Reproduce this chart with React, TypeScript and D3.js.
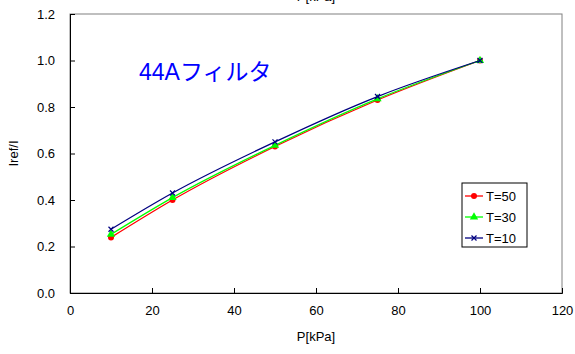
import React, { useEffect, useRef } from 'react';
import * as d3 from 'd3';

const pressures = [10, 25, 50, 75, 100];
const t50 = [0.239, 0.40, 0.63, 0.83, 1.0];
const t30 = [0.252, 0.41, 0.635, 0.835, 1.0];
const t10 = [0.274, 0.43, 0.65, 0.845, 1.0];
const seriesNames = ['T=50', 'T=30', 'T=10'];
const xTicks = [0, 20, 40, 60, 80, 100, 120];
const yTicks = [0, 0.2, 0.4, 0.6, 0.8, 1.0, 1.2];

const W = 575;
const H = 354;
const FONT = '"Liberation Sans", Arial, "Noto Sans CJK JP", sans-serif';

export default function App() {
  const ref = useRef<SVGSVGElement | null>(null);

  useEffect(() => {
    const svg = d3.select(ref.current);
    svg.selectAll('*').remove();

    const margin = { top: 14, right: 13, bottom: 61, left: 70 };
    const x = d3.scaleLinear().domain([0, 120]).range([margin.left, W - margin.right]);
    const y = d3.scaleLinear().domain([0, 1.2]).range([H - margin.bottom, margin.top]);

    // plot frame
    svg.append('rect')
      .attr('x', x(0)).attr('y', y(1.2))
      .attr('width', x(120) - x(0)).attr('height', y(0) - y(1.2))
      .attr('fill', 'white').attr('stroke', '#808080').attr('stroke-width', 1);

    // x axis
    const xAxis = svg.append('g')
      .attr('transform', `translate(0,${y(0)})`)
      .call(d3.axisBottom(x).tickValues(xTicks).tickSize(-5).tickPadding(13).tickFormat(d3.format('d')));
    xAxis.select('.domain').attr('stroke', 'black');
    xAxis.selectAll('text').attr('font-size', 13).attr('font-family', FONT).attr('fill', 'black');

    // y axis
    const yAxis = svg.append('g')
      .attr('transform', `translate(${x(0)},0)`)
      .call(d3.axisLeft(y).tickValues(yTicks).tickSize(-5).tickPadding(15).tickFormat(d3.format('.1f')));
    yAxis.select('.domain').attr('stroke', 'black');
    yAxis.selectAll('text').attr('font-size', 13).attr('font-family', FONT).attr('fill', 'black');

    // titles
    svg.append('text').attr('x', (x(0) + x(120)) / 2).attr('y', 341)
      .attr('text-anchor', 'middle').attr('font-size', 13).attr('font-family', FONT).text('P[kPa]');
    // top title, cut off by the upper edge as in the original
    svg.append('text').attr('x', (x(0) + x(120)) / 2).attr('y', 1)
      .attr('text-anchor', 'middle').attr('font-size', 13).attr('font-family', FONT).text('P[kPa]');
    svg.append('text')
      .attr('transform', `translate(18,${(y(0) + y(1.2)) / 2}) rotate(-90)`)
      .attr('text-anchor', 'middle').attr('font-size', 13).attr('font-family', FONT).text('Iref/I');

    svg.append('text').attr('x', 139).attr('y', 80)
      .attr('font-size', 23).attr('font-family', FONT).attr('fill', '#0000FF').text('44Aフィルタ');

    const series = [
      { name: seriesNames[0], values: t50, color: '#FF0000', marker: 'circle' },
      { name: seriesNames[1], values: t30, color: '#00FF00', marker: 'triangle' },
      { name: seriesNames[2], values: t10, color: '#000080', marker: 'x' },
    ];

    const line = d3.line<number>()
      .x((_, i) => x(pressures[i]))
      .y((d) => y(d))
      .curve(d3.curveMonotoneX);

    const drawMarker = (g: any, type: string, color: string, cx: number, cy: number) => {
      if (type === 'circle') {
        g.append('circle').attr('cx', cx).attr('cy', cy).attr('r', 3).attr('fill', color);
      } else if (type === 'triangle') {
        g.append('path')
          .attr('d', d3.symbol().type(d3.symbolTriangle).size(30)())
          .attr('transform', `translate(${cx},${cy})`).attr('fill', color);
      } else {
        g.append('path')
          .attr('d', `M${cx - 2.5},${cy - 2.5}L${cx + 2.5},${cy + 2.5}M${cx - 2.5},${cy + 2.5}L${cx + 2.5},${cy - 2.5}`)
          .attr('stroke', color).attr('stroke-width', 1.2);
      }
    };

    series.forEach((s) => {
      const g = svg.append('g');
      g.append('path').attr('d', line(s.values)).attr('fill', 'none')
        .attr('stroke', s.color).attr('stroke-width', 1.3);
      s.values.forEach((v, i) => drawMarker(g, s.marker, s.color, x(pressures[i]), y(v)));
    });

    // legend
    const lg = svg.append('g');
    lg.append('rect').attr('x', 462).attr('y', 183).attr('width', 65).attr('height', 64)
      .attr('fill', 'white').attr('stroke', 'black').attr('stroke-width', 1);
    series.forEach((s, i) => {
      const cy = 196 + i * 21;
      lg.append('line').attr('x1', 465).attr('x2', 483).attr('y1', cy).attr('y2', cy)
        .attr('stroke', s.color).attr('stroke-width', 1.3);
      drawMarker(lg, s.marker, s.color, 474, cy);
      lg.append('text').attr('x', 486).attr('y', cy + 5).attr('font-size', 13)
        .attr('font-family', FONT).text(s.name);
    });
  }, []);

  return (
    <div style={{ position: 'absolute', left: 0, top: 0 }}>
      <svg ref={ref} width={W} height={H} style={{ display: 'block', background: 'white' }} />
    </div>
  );
}
